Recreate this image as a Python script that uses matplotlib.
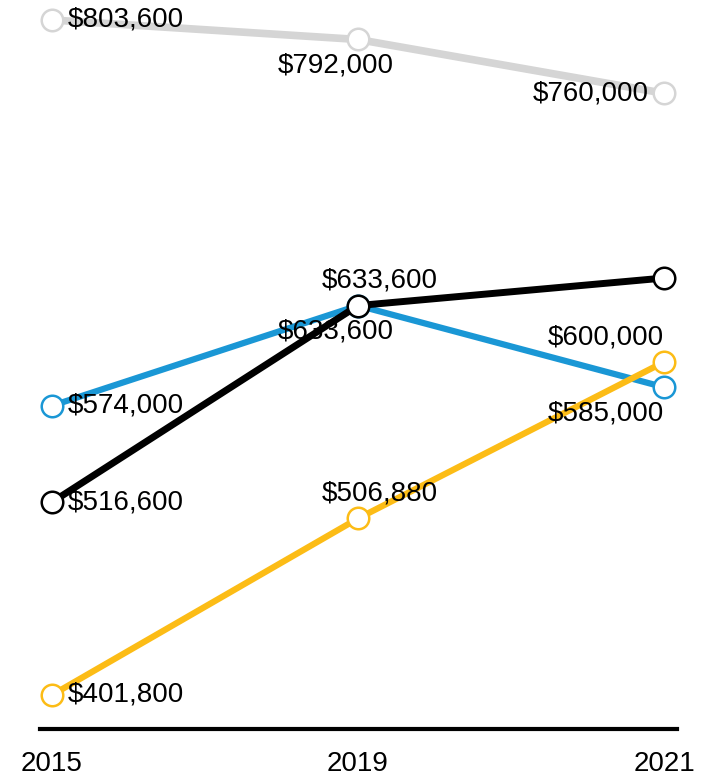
import matplotlib
matplotlib.use("Agg")
import matplotlib.pyplot as plt

plt.rcParams['font.family'] = ['Liberation Sans', 'DejaVu Sans']

years = ['2015', '2019', '2021']
gray_vals = [803600, 792000, 760000]
blue_vals = [574000, 633600, 585000]
black_vals = [516600, 633600, 650000]
yellow_vals = [401800, 506880, 600000]

# where each label goes: 'r' right of point, 'a' above, 'b' below, 'l' left, None = no label
gray_pos = ['r', 'b', 'l']
blue_pos = ['r', 'b', 'b']
black_pos = ['r', 'a', None]
yellow_pos = ['r', 'a', 'a']

fig = plt.figure(figsize=(7.11, 7.78), dpi=100)
ax = fig.add_axes([40 / 711, 1 - 729 / 778, 637 / 711, 729 / 778])

x = list(range(len(years)))
fs = 20


def label(xi, v, pos, n):
    txt = '${:,}'.format(v)
    if pos == 'r':
        ax.annotate(txt, (xi, v), xytext=(11, 0), textcoords='offset points',
                    ha='left', va='center', fontsize=fs, zorder=5)
    elif pos == 'l':
        ax.annotate(txt, (xi, v), xytext=(-11, 0), textcoords='offset points',
                    ha='right', va='center', fontsize=fs, zorder=5)
    else:
        dy = 18 if pos == 'a' else -19
        if xi == n - 1:
            ax.annotate(txt, (xi, v), xytext=(0, dy), textcoords='offset points',
                        ha='right', va='center', fontsize=fs, zorder=5)
        else:
            dx = 16 if pos == 'a' else -16
            ax.annotate(txt, (xi, v), xytext=(dx, dy), textcoords='offset points',
                        ha='center', va='center', fontsize=fs, zorder=5)


series = [
    (gray_vals, gray_pos, '#d5d5d5', 5.5),
    (blue_vals, blue_pos, '#1a97d5', 4.5),
    (black_vals, black_pos, '#000000', 5.0),
    (yellow_vals, yellow_pos, '#fcbc16', 4.5),
]

for i, (vals, poss, col, lw) in enumerate(series):
    ax.plot(x, vals, color=col, lw=lw, zorder=2 + i * 0.1,
            marker='o', ms=15.5, mfc='white', mec=col, mew=1.8)
    for xi, v, p in zip(x, vals, poss):
        if p is not None:
            label(xi, v, p, len(x))

ax.set_xlim(-12 / 306, 2 + 13 / 306)
ax.set_ylim(381560, 815500)

for s in ['top', 'right', 'left']:
    ax.spines[s].set_visible(False)
ax.spines['bottom'].set_linewidth(3)
ax.spines['bottom'].set_color('black')
ax.set_yticks([])
ax.set_xticks(x)
ax.set_xticklabels(years, fontsize=fs)
ax.tick_params(axis='x', length=0, pad=16)

fig.savefig('out.png', dpi=100)
